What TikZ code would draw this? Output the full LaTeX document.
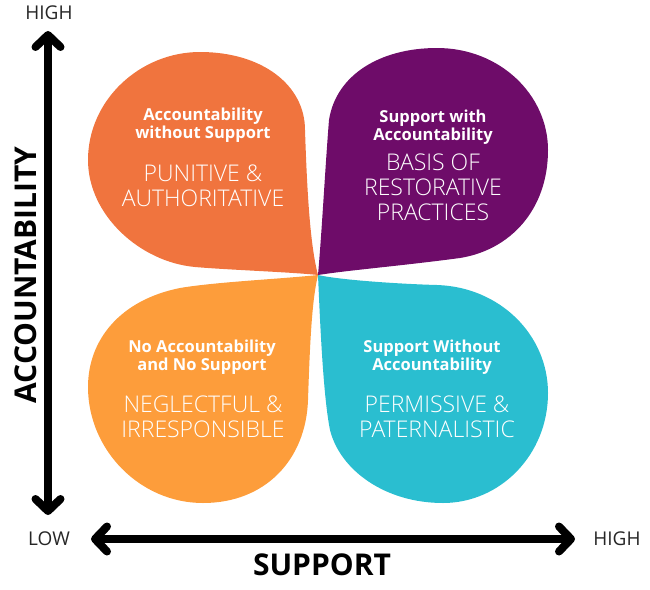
\documentclass[tikz,border=0pt]{standalone}
\usepackage{fontspec}
\setmainfont{Open Sans}
\newfontfamily\lightfont{Open Sans Light}
\usetikzlibrary{arrows.meta}
\definecolor{cOrange}{HTML}{F0743E}
\definecolor{cPurple}{HTML}{6E0C69}
\definecolor{cLight}{HTML}{FD9D3B}
\definecolor{cTeal}{HTML}{2ABED0}
\tikzset{
  petal/.style={draw=none},
  sublbl/.style={text=white, font=\fontsize{16.5}{18}\selectfont\bfseries, align=center, inner sep=0pt},
  mainlbl/.style={text=white, font=\lightfont\fontsize{23}{25}\selectfont, align=center, inner sep=0pt},
  axislbl/.style={text=black!85, font=\fontsize{19}{20}\selectfont, inner sep=0pt},
  axistitle/.style={text=black, font=\fontsize{30}{32}\selectfont\bfseries, inner sep=0pt},
  axisline/.style={line width=8pt, draw=black, {Straight Barb[length=12pt,width=25pt,round]}-{Straight Barb[length=12pt,width=25pt,round]}}
}
\begin{document}
\begin{tikzpicture}[x=1pt,y=-1pt]
\useasboundingbox (0,0) rectangle (650,589);
\coordinate (T) at (318,275);
% orange (top-left)
\fill[petal, cOrange] (T) .. controls (290,272) and (230,270) .. (195,267)
  .. controls (140,262) and (88,215) .. (88,160)
  .. controls (88,100) and (140,52) .. (200,52)
  .. controls (262,52) and (305,85) .. (305,130)
  .. controls (307,190) and (310,245) .. (T);
% purple (top-right)
\fill[petal, cPurple] (T) .. controls (322,230) and (325,170) .. (329,120)
  .. controls (336,75) and (380,48) .. (437,48)
  .. controls (500,48) and (548,95) .. (548,150)
  .. controls (548,210) and (510,250) .. (460,258)
  .. controls (400,266) and (350,270) .. (T);
% light orange (bottom-left)
\fill[petal, cLight] (T) .. controls (280,279) and (215,282) .. (180,288)
  .. controls (120,300) and (88,340) .. (88,387)
  .. controls (88,450) and (140,503) .. (203,503)
  .. controls (265,503) and (306,460) .. (308,400)
  .. controls (310,340) and (312,300) .. (T);
% teal (bottom-right)
\fill[petal, cTeal] (T) .. controls (340,280) and (400,284) .. (437,285)
  .. controls (500,287) and (548,335) .. (548,393)
  .. controls (548,455) and (500,503) .. (443,503)
  .. controls (385,503) and (340,470) .. (330,430)
  .. controls (323,395) and (320,320) .. (T);

% labels in petals
\node[sublbl] (s1) at (203,125) {Accountability\\without Support};
\node[mainlbl] (m1) at (203,186) {PUNITIVE \&\\AUTHORITATIVE};
\node[sublbl] (s2) at (433,127) {Support with\\Accountability};
\node[mainlbl] (m2) at (433,187) {BASIS OF\\RESTORATIVE\\PRACTICES};
\node[sublbl] (s3) at (202,357) {No Accountability\\and No Support};
\node[mainlbl] (m3) at (203,417) {NEGLECTFUL \&\\IRRESPONSIBLE};
\node[sublbl] (s4) at (432,357) {Support Without\\Accountability};
\node[mainlbl] (m4) at (437,417) {PERMISSIVE \&\\PATERNALISTIC};

% axes
\coordinate (vtop) at (48,31);
\coordinate (vbot) at (48,515);
\coordinate (hleft) at (91,539);
\coordinate (hright) at (575,539);
\draw[axisline] (vbot) -- (vtop);
\draw[axisline] (hleft) -- (hright);

\node[axislbl] (hi1) at (49,13) {HIGH};
\node[axislbl] (lo) at (49,539) {LOW};
\node[axislbl] (hi2) at (617,539) {HIGH};
\node[axistitle, rotate=90] (acc) at (26,275) {ACCOUNTABILITY};
\node[axistitle] (sup) at (322,565) {SUPPORT};
\end{tikzpicture}
\end{document}
